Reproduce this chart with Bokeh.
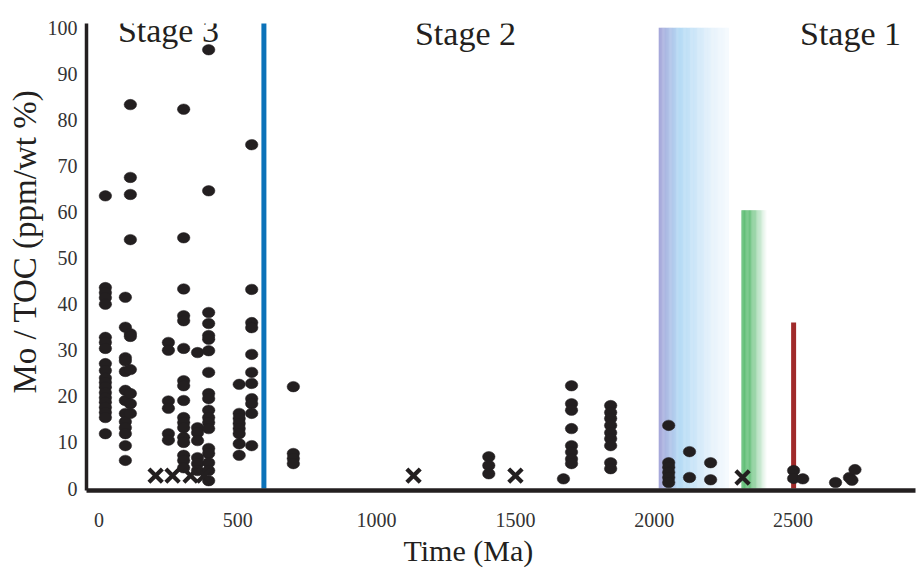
import numpy as np
from bokeh.plotting import figure
from bokeh.models import Range1d, FixedTicker, Label, ColumnDataSource, Title
from bokeh.embed import file_html
from bokeh.resources import INLINE

# --- data: Mo/TOC (ppm / wt %) against age (Ma) ---------------------------
# each entry: (age, list of Mo/TOC values measured at that age)
shale_groups = [
    (23,   [63.5, 43.6, 42.5, 41.4, 40.0, 32.8, 31.7, 30.4, 27.1, 25.6, 24.0,
            23.0, 22.0, 20.8, 19.7, 18.7, 17.6, 16.5, 15.4, 11.9]),
    (95,   [41.5, 35.0, 28.4, 27.7, 25.4, 21.3, 19.1, 16.3, 14.5, 13.2, 11.9,
            9.3, 6.1]),
    (113,  [83.3, 67.5, 63.8, 54.0, 33.6, 33.0, 25.8, 20.6, 18.4, 16.3]),
    (250,  [31.7, 30.0, 19.0, 17.4, 11.9, 10.5]),
    (305,  [82.3, 54.4, 43.3, 37.5, 36.4, 30.4, 23.4, 22.3, 19.1, 15.4, 14.3,
            13.2, 11.1, 10.0, 7.2, 6.1, 4.5]),
    (355,  [29.5, 13.2, 12.1, 10.4, 6.7, 5.4, 3.9]),
    (395,  [95.2, 64.6, 38.2, 35.8, 33.2, 32.4, 29.9, 25.2, 20.6, 19.5, 17.0,
            15.4, 14.3, 13.0, 8.7, 7.6, 5.6, 3.9, 1.7]),
    (505,  [22.6, 16.3, 15.2, 14.1, 13.0, 11.9, 9.7, 7.2]),
    (550,  [74.6, 43.2, 36.0, 34.9, 29.1, 25.2, 22.8, 19.5, 18.4, 16.3, 9.3]),
    (700,  [22.1, 7.6, 6.5, 5.4]),
    (1404, [6.9, 5.0, 3.2]),
    (1673, [2.1]),
    (1702, [22.3, 18.4, 17.0, 13.0, 9.3, 7.9, 6.4, 5.4]),
    (1843, [18.0, 16.5, 15.2, 13.7, 12.1, 10.8, 9.3, 5.6, 4.3]),
    (2052, [13.7, 5.6, 4.6, 3.5, 2.4, 1.3]),
    (2127, [8.0, 2.4]),
    (2203, [5.6, 1.9]),
    (2502, [3.9, 2.2]),
    (2535, [2.1]),
    (2653, [1.3]),
    (2703, [2.4]),
    (2712, [1.8]),
    (2723, [4.1]),
]

# samples without enrichment, shown as crosses
cross_age = [204, 265, 330, 378, 1133, 1500, 2318]
cross_val = [2.8, 2.8, 2.8, 2.8, 2.8, 2.8, 2.4]

# reference lines / bands
boundary_age = 594                  # Stage 3 / Stage 2 boundary
goe_band = (2016, 2268, 100.0)      # start, end, top
green_band = (2314, 2405, 60.4)
red_age, red_top = 2502, 36.0

x_ticks = [0, 500, 1000, 1500, 2000, 2500]
y_ticks = [0, 10, 20, 30, 40, 50, 60, 70, 80, 90, 100]

stage_names = ["Stage 3", "Stage 2", "Stage 1"]
x_title = "Time (Ma)"
y_title = "Mo / TOC (ppm/wt %)"

# --- figure ---------------------------------------------------------------
INK = "#231f20"
FONT = "Liberation Serif"

p = figure(width=918, height=576,
           x_range=Range1d(-45, 2941), y_range=Range1d(-0.43, 100.9),
           output_backend="svg", toolbar_location=None,
           min_border_left=86, min_border_right=3,
           min_border_top=23, min_border_bottom=86)
p.grid.visible = False
p.outline_line_color = None
p.background_fill_color = "white"


def hex_to_rgb(h):
    h = h.lstrip("#")
    return np.array([int(h[i:i + 2], 16) for i in (0, 2, 4)], dtype=float)


def ramp(stops, n):
    """Colours for n slices along a piecewise-linear gradient."""
    pos = np.array([s[0] for s in stops])
    cols = np.array([hex_to_rgb(s[1]) for s in stops])
    f = (np.arange(n) + 0.5) / n
    out = []
    for t in f:
        rgb = [np.interp(t, pos, cols[:, k]) for k in range(3)]
        out.append("#%02x%02x%02x" % tuple(int(round(c)) for c in rgb))
    return out


def gradient_band(x0, x1, top, stops, n=60):
    edges = np.linspace(x0, x1, n + 1)
    src = ColumnDataSource(dict(left=edges[:-1], right=edges[1:] + (x1 - x0) / n * 0.3,
                                top=[top] * n, bottom=[0] * n,
                                color=ramp(stops, n)))
    p.quad(left="left", right="right", top="top", bottom="bottom",
           fill_color="color", line_color=None, source=src)


gradient_band(goe_band[0], goe_band[1], goe_band[2],
              [(0.0, "#a7a7d9"), (0.3, "#b5dbf5"), (0.75, "#e6f2fb"), (1.0, "#f6fafe")])
gradient_band(green_band[0], green_band[1], green_band[2],
              [(0.0, "#5cbc72"), (0.35, "#70c483"), (1.0, "#ffffff")], n=30)

p.segment(x0=[red_age], y0=[0], x1=[red_age], y1=[red_top],
          line_color="#a02a2a", line_width=5)
p.segment(x0=[boundary_age], y0=[0], x1=[boundary_age], y1=[102],
          line_color="#0b72b9", line_width=5)

ages = [a for a, vals in shale_groups for _ in vals]
vals = [v for _, vs in shale_groups for v in vs]
p.ellipse(x=ages, y=vals, width=12.5, height=10.5,
          width_units="screen", height_units="screen",
          fill_color=INK, line_color=INK, line_width=0.5)

p.scatter(x=cross_age, y=cross_val, marker="x", size=19,
          line_color=INK, line_width=4.2)

# stage labels
for name, xa, ya in zip(stage_names, [250, 1320, 2707], [99.3, 98.8, 98.8]):
    p.add_layout(Label(x=xa, y=ya, text=name, text_align="center",
                       text_baseline="alphabetic", text_font=FONT,
                       text_font_size="34px", text_color=INK))

# axes
for ax in (p.xaxis[0], p.yaxis[0]):
    ax.major_tick_line_color = None
    ax.minor_tick_line_color = None
    ax.axis_line_color = INK
    ax.major_label_text_font = FONT
    ax.major_label_text_font_size = "20px"
    ax.major_label_text_color = "#333333"

p.xaxis.ticker = FixedTicker(ticks=x_ticks)
p.yaxis.ticker = FixedTicker(ticks=y_ticks)
p.xaxis.axis_line_width = 4.5
p.yaxis.axis_line_width = 3.5
p.xaxis.major_label_standoff = 16
p.yaxis.major_label_standoff = 3

# axis titles as side titles, offset along the axis
p.add_layout(Title(text=x_title, align="left", offset=317, standoff=4,
                   text_font=FONT, text_font_size="30px",
                   text_font_style="normal", text_color=INK), "below")
p.add_layout(Title(text=y_title, align="left", offset=97, standoff=4,
                   text_font=FONT, text_font_size="33px",
                   text_font_style="normal", text_color=INK), "left")

open("out.html", "w").write(file_html(p, INLINE))
